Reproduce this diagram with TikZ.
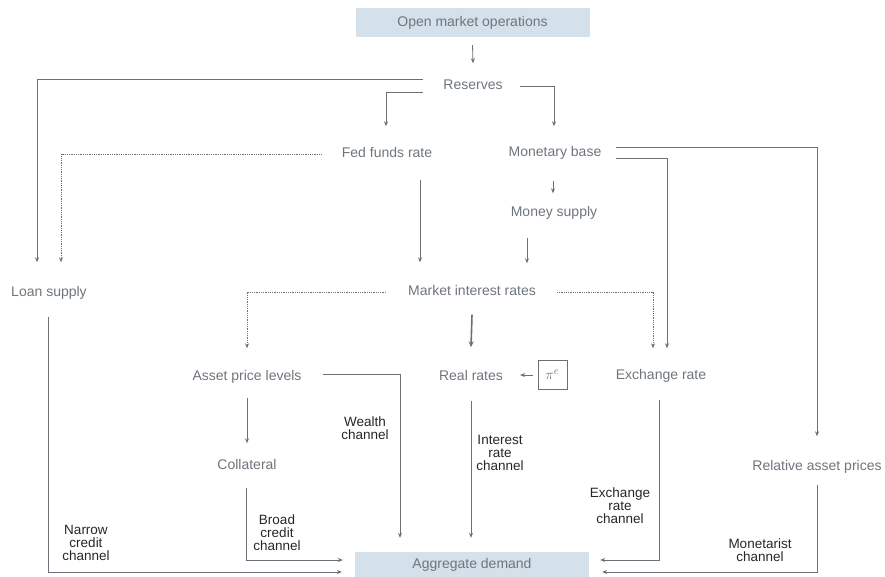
\documentclass[tikz,border=0pt]{standalone}
\usepackage{fontspec}
\setmainfont{Liberation Sans}
\usetikzlibrary{arrows.meta}
\definecolor{ntext}{HTML}{6E757C}
\definecolor{ltext}{HTML}{262626}
\definecolor{lcol}{HTML}{6A7076}
\definecolor{boxfill}{HTML}{D4E1EB}
\begin{document}
\begin{tikzpicture}[x=1pt,y=-1pt,
  lbl/.style={text=ntext, font=\fontsize{14}{16}\selectfont, inner sep=0pt, text height=10pt, text depth=3pt},
  boxn/.style={fill=boxfill, text=ntext, font=\fontsize{14}{16}\selectfont, minimum width=234pt, inner sep=0pt},
  chan/.style={text=ltext, font=\fontsize{13.5}{13}\selectfont, align=center, inner sep=0pt},
  conn/.style={draw=lcol, line width=0.8pt, -{Stealth[length=5pt,width=4pt]}},
  dotc/.style={conn, densely dotted},
  thickc/.style={conn, line width=1.6pt, -{Stealth[length=6pt,width=5pt]}}
]
\useasboundingbox (0,0) rectangle (885,577);

% nodes
\node[boxn, minimum height=29pt] (omo) at (472.5,22.5) {Open market operations};
\node[lbl] (res) at (473,86) {Reserves};
\node[lbl] (ffr) at (387,154) {Fed funds rate};
\node[lbl] (mb)  at (555,153) {Monetary base};
\node[lbl] (ms)  at (554,213) {Money supply};
\node[lbl] (loan) at (49,293) {Loan supply};
\node[lbl] (mir) at (472,292) {Market interest rates};
\node[lbl] (apl) at (247,377) {Asset price levels};
\node[lbl] (rr)  at (471,377) {Real rates};
\node[draw=lcol, line width=0.6pt, minimum width=29pt, minimum height=29pt, inner sep=0pt, text=ntext, font=\fontsize{15}{17}\selectfont] (pie) at (552.5,375) {$\pi^{e}$};
\node[lbl] (er)  at (661,376) {Exchange rate};
\node[lbl] (col) at (247,466) {Collateral};
\node[lbl] (rap) at (817,467) {Relative asset prices};
\node[boxn, minimum height=26pt] (ad) at (472,565) {Aggregate demand};

% channel labels
\node[chan] (lw) at (365,428) {Wealth\\channel};
\node[chan] (lb) at (277,533) {Broad\\credit\\channel};
\node[chan] (ln) at (86,543) {Narrow\\credit\\channel};
\node[chan] (li) at (500,453) {Interest\\rate\\channel};
\node[chan] (le) at (620,506) {Exchange\\rate\\channel};
\node[chan] (lm) at (760,550) {Monetarist\\channel};

% connectors
\draw[conn] ([yshift=-8pt]omo.south) -- ([yshift=16pt]res.north);
\draw[conn] ([xshift=-20pt,yshift=7pt]res.west) -| ([xshift=-12pt,yshift=24pt]loan.north);
\draw[conn] ([xshift=-20pt,yshift=-6pt]res.west) -| ([xshift=-1pt,yshift=21pt]ffr.north);
\draw[conn] ([xshift=17pt]res.east) -| ([xshift=-1pt,yshift=20pt]mb.north);
\draw[dotc] ([xshift=-20pt]ffr.west) -| ([xshift=12pt,yshift=24pt]loan.north);
\draw[conn] ([xshift=33pt,yshift=-19pt]ffr.south) -- ([xshift=-52pt,yshift=23pt]mir.north);
\draw[conn] ([xshift=-2pt,yshift=-21pt]mb.south) -- ([xshift=-1pt,yshift=13pt]ms.north);
\draw[conn] ([xshift=14pt,yshift=-5pt]mb.east) -| ([xshift=6pt,yshift=21pt]er.north);
\draw[conn] ([xshift=14pt,yshift=6pt]mb.east) -| ([yshift=24pt]rap.north);
\draw[conn] ([xshift=-27pt,yshift=-18pt]ms.south) -- ([xshift=55pt,yshift=22pt]mir.north);
\draw[dotc] ([xshift=-22pt]mir.west) -| ([yshift=22pt]apl.north);
\draw[thickc] ([yshift=-16pt]mir.south) -- ([yshift=23pt]rr.north);
\draw[dotc] ([xshift=21pt]mir.east) -| ([xshift=-8pt,yshift=21pt]er.north);
\draw[conn] ([xshift=-5pt]pie.west) -- ([xshift=17pt,yshift=2pt]rr.east);
\draw[conn] ([yshift=-14pt]apl.south) -- ([yshift=16pt]col.north);
\draw[conn] ([xshift=21pt,yshift=3pt]apl.east) -| ([xshift=-72pt,yshift=14pt]ad.north);
\draw[conn] ([xshift=-1pt,yshift=-15pt]col.south) |- ([xshift=-12pt,yshift=5pt]ad.west);
\draw[conn] ([xshift=-1pt,yshift=-17pt]loan.south) |- ([xshift=-13pt,yshift=-7pt]ad.west);
\draw[conn] ([yshift=-17pt]rr.south) -- ([xshift=-1pt,yshift=14pt]ad.north);
\draw[conn] ([xshift=-2pt,yshift=-17pt]er.south) |- ([xshift=11pt,yshift=5pt]ad.east);
\draw[conn] ([yshift=-11pt]rap.south) |- ([xshift=13pt,yshift=-7pt]ad.east);
\end{tikzpicture}
\end{document}
